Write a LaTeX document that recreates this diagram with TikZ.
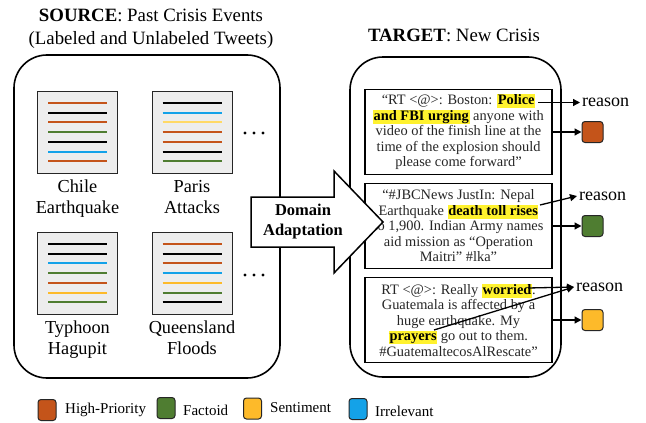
\documentclass[tikz,border=0pt]{standalone}
\usepackage{xcolor}
\usepackage{fontspec}
\setmainfont{Liberation Serif}
\usepackage{tikz}
\usetikzlibrary{arrows.meta,positioning}

\definecolor{hp}{HTML}{C4541A}
\definecolor{fact}{HTML}{4F7D31}
\definecolor{sent}{HTML}{FDBA2A}
\definecolor{sentlight}{HTML}{FFD966}
\definecolor{irr}{HTML}{14A2E8}
\definecolor{hlyel}{HTML}{FFF22E}

\newcommand{\hlt}[1]{{\setlength{\fboxsep}{0.6pt}\colorbox{hlyel}{\color{black}\textbf{#1}\vphantom{Ag}}}}

\tikzset{
  bigbox/.style={draw, line width=1.6pt, rounded corners=33pt},
  docbox/.style={draw=black!85, fill=black!7, line width=0.9pt, minimum width=80pt, minimum height=82pt, inner sep=0pt},
  docline/.style={line width=2pt},
  doclabel/.style={font=\fontsize{18.3}{21}\selectfont, align=center, inner sep=0pt},
  tweet/.style={draw, fill=white, line width=1.2pt, minimum width=187pt, minimum height=85pt, align=center, text=black!85, font=\fontsize{14.4}{15.5}\selectfont, inner sep=0pt},
  catbox/.style={draw=black!85, line width=1pt, rounded corners=3pt, minimum size=21pt, inner sep=0pt},
  legbox/.style={draw=black!85, line width=1pt, rounded corners=3pt, minimum width=18pt, minimum height=21pt, inner sep=0pt},
  legtext/.style={font=\fontsize{15}{17}\selectfont, anchor=west, inner sep=0pt},
  reason/.style={font=\fontsize{18}{20}\selectfont, anchor=west, inner sep=2pt},
  arr/.style={line width=1.3pt, -{Triangle[length=7pt,width=7pt]}},
  title/.style={font=\fontsize{18.8}{23}\selectfont, align=center, inner sep=0pt},
}

\begin{document}
\begin{tikzpicture}[x=1pt,y=-1pt]
\useasboundingbox (0,0) rectangle (646,423);

% titles
\node[title] (srctitle) at (151,28.5) {\textbf{SOURCE}: Past Crisis Events\\(Labeled and Unlabeled Tweets)};
\node[title] (tgttitle) at (454,35) {\textbf{TARGET}: New Crisis};

% the two panels
\draw[bigbox] (14,55) rectangle (280,378);
\draw[bigbox] (350,57) rectangle (561,377);

% past crisis events
\pgfmathsetmacro{\X}{37}
\pgfmathsetmacro{\Y}{91}
\node[docbox, anchor=north west] (chile) at (\X,\Y) {};
\foreach \c [count=\i] in {hp,black,hp,fact,black,irr,hp}{
\draw[docline,\c] (\X+11,\Y+2.3+9.7*\i) --++ (59,0);
}
\node[doclabel, below=6pt of chile] (chilelbl) {Chile\\Earthquake};

\pgfmathsetmacro{\X}{151.5}
\pgfmathsetmacro{\Y}{91}
\node[docbox, anchor=north west] (paris) at (\X,\Y) {};
\foreach \c [count=\i] in {black,irr,sentlight,hp,hp,black,fact}{
\draw[docline,\c] (\X+11,\Y+2.3+9.7*\i) --++ (59,0);
}
\node[doclabel, below=6pt of paris] (parislbl) {Paris\\Attacks};

\pgfmathsetmacro{\X}{37}
\pgfmathsetmacro{\Y}{232}
\node[docbox, anchor=north west] (typhoon) at (\X,\Y) {};
\foreach \c [count=\i] in {black,black,irr,fact,hp,sent,fact}{
\draw[docline,\c] (\X+11,\Y+2.3+9.7*\i) --++ (59,0);
}
\node[doclabel, below=6pt of typhoon] (typhoonlbl) {Typhoon\\Hagupit};

\pgfmathsetmacro{\X}{151.5}
\pgfmathsetmacro{\Y}{232}
\node[docbox, anchor=north west] (queens) at (\X,\Y) {};
\foreach \c [count=\i] in {hp,black,hp,irr,sent,fact,black}{
\draw[docline,\c] (\X+11,\Y+2.3+9.7*\i) --++ (59,0);
}
\node[doclabel, below=6pt of queens] (queenslbl) {Queensland\\Floods};

\foreach \x in {245,254,263}{
\fill (\x,133) circle (1.6);
\fill (\x,275) circle (1.6);
}

% new crisis tweets
\node[tweet] (t1) at (458.5,132) {“RT <@>: Boston: \hlt{Police}\\\hlt{and FBI urging} anyone with\\video of the finish line at the\\time of the explosion should\\please come forward”};
\node[tweet] (t2) at (458.5,226) {“\#JBCNews JustIn: Nepal\\Earthquake \hlt{death toll rises}\\to 1,900. Indian Army names\\aid mission as “Operation\\Maitri” \#lka”};
\node[tweet] (t3) at (458.5,320) {RT <@>: Really \hlt{worried}.\\Guatemala is affected by a\\huge earthquake. My\\\hlt{prayers} go out to them.\\\#GuatemaltecosAlRescate”};

% labels
\node[catbox, fill=hp] (c1) at (592.5,132) {};
\node[catbox, fill=fact] (c2) at (592.5,226) {};
\node[catbox, fill=sent] (c3) at (592.5,320) {};
\draw[arr] (t1.east) -- (c1.west);
\draw[arr] (t2.east) -- (c2.west);
\draw[arr] (t3.east) -- (c3.west);

\node[reason] (r1) at (580,102.5) {reason};
\node[reason] (r2) at (577,196) {reason};
\node[reason] (r3) at (574,287) {reason};
\coordinate (police) at (538,102.5);
\coordinate (toll) at (540,205);
\coordinate (worried) at (528,288);
\coordinate (prayers) at (434,330);
\draw[arr] (police) -- (r1.west);
\draw[arr] (toll) -- (r2.west);
\draw[arr] (worried) -- (r3.west);
\draw[arr] (prayers) -- (r3.west);

% domain adaptation arrow
\draw[line width=1.5pt, fill=white] (251,197) -- (334,197) -- (334,171) -- (383,222) -- (334,273) -- (334,247) -- (251,247) -- cycle;
\node[font=\bfseries\fontsize{16.5}{20}\selectfont, align=center, inner sep=0pt] (adapt) at (303,222) {Domain\\Adaptation};

% legend
\node[legbox, fill=hp] (lhp) at (47,410) {};
\node[legtext] (lhptxt) at (65,410) {High-Priority};
\node[legbox, fill=fact] (lfact) at (166,408) {};
\node[legtext] (lfacttxt) at (183,410) {Factoid};
\node[legbox, fill=sent] (lsent) at (252.5,408.5) {};
\node[legtext] (lsenttxt) at (270,408) {Sentiment};
\node[legbox, fill=irr] (lirr) at (358,409) {};
\node[legtext] (lirrtxt) at (375,411) {Irrelevant};

\end{tikzpicture}
\end{document}
